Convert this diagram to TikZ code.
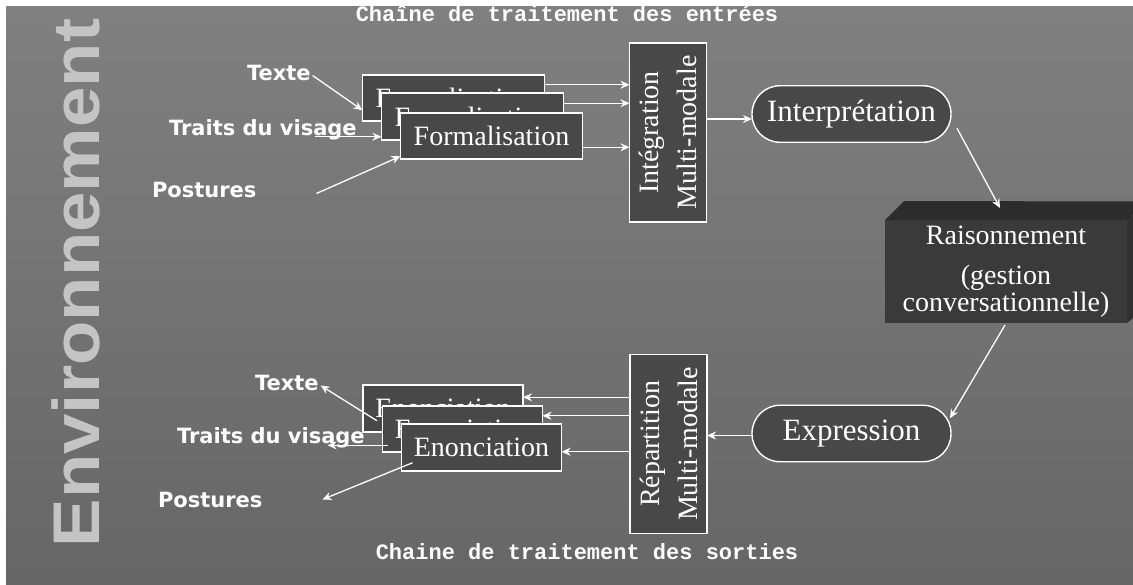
\documentclass[tikz,border=0pt]{standalone}
\usepackage{fontspec}
\setmainfont{Liberation Serif}
\newfontfamily\labelfont{DejaVu Sans}
\newfontfamily\envfont{Liberation Sans}
\newfontfamily\chainfont{Liberation Mono}
\usetikzlibrary{calc,arrows.meta}
\definecolor{bgtop}{RGB}{128,128,128}
\definecolor{bgbot}{RGB}{102,102,102}
\definecolor{boxgrey}{RGB}{72,72,72}
\definecolor{deepgrey}{RGB}{58,58,58}
\definecolor{topface}{RGB}{44,44,44}
\definecolor{sideface}{RGB}{50,50,50}
\definecolor{envgrey}{RGB}{196,196,196}

\tikzset{
  every node/.style={inner sep=0pt, outer sep=0pt},
  procbox/.style={draw=white, line width=1.6pt, fill=boxgrey, text=white,
    font=\fontsize{28}{30}\selectfont, minimum width=182pt, minimum height=46.5pt},
  mmbox/.style={draw=white, line width=1.6pt, fill=boxgrey,
    minimum width=77pt, minimum height=179pt},
  mmtext/.style={rotate=90, align=center, text=white, font=\fontsize{28}{38}\selectfont},
  pill/.style={draw=white, line width=1.4pt, fill=boxgrey, text=white,
    rounded corners=28pt, minimum width=199pt, minimum height=56.5pt,
    font=\fontsize{31}{34}\selectfont},
  chanlabel/.style={anchor=base west, text=white, font=\labelfont\bfseries\fontsize{21}{24}\selectfont},
  chaintitle/.style={anchor=base, text=white, font=\chainfont\bfseries\fontsize{22}{24}\selectfont},
  arr/.style={draw=white, line width=1.3pt, -{Stealth[length=9pt,width=8pt]}},
}

\begin{document}
\begin{tikzpicture}[x=1pt,y=-1pt]
\useasboundingbox (0,0) rectangle (1133,584);
% page and slide background
\fill[white] (0,0) rectangle (1133,584);
\shade[top color=bgtop, bottom color=bgbot] (6,6) rectangle (1133,584);

% side caption and chain titles
\node[rotate=90, text=envgrey, font=\envfont\bfseries\fontsize{66}{66}\selectfont] (env) at (76,283)
  {\scalebox{1.1}[1]{Environnement}};
\node[chaintitle] (tin) at (567,21) {Chaîne de traitement des entrées};
\node[chaintitle] (tout) at (587,559) {Chaine de traitement des sorties};

% ---------- input chain ----------
\node[procbox] (fa) at (453.5,98) {Formalisation};
\node[procbox] (fb) at (472.5,116.5) {Formalisation};
\node[procbox] (fc) at (491.5,136) {Formalisation};

\node[chanlabel] (txin) at (247,80) {Texte};
\node[chanlabel] (vsin) at (169,135) {Traits du visage};
\node[chanlabel] (psin) at (152,197) {Postures};

\draw[arr] ($(txin.east)+(2,3)$) -- ($(fa.south west)+(0,-11)$);
\draw[arr] ($(fb.south west)+(-67,-3)$) -- ($(fb.south west)+(0,-3)$);
\draw[arr] ($(psin.east)+(60,4)$) -- ($(fc.south west)+(0,-3)$);

\node[mmbox] (integ) at (668,132.5) {};
\node[mmtext] at (integ) {Intégration\\Multi-modale};

\coordinate (ia) at ($(fa.north east)+(0,10)$);
\coordinate (ib) at ($(fb.north east)+(0,10)$);
\coordinate (ic) at ($(fc.south east)+(0,-12)$);
\draw[arr] (ia) -- (ia -| integ.west);
\draw[arr] (ib) -- (ib -| integ.west);
\draw[arr] (ic) -- (ic -| integ.west);

\node[pill] (interp) at (851.5,114) {Interprétation};
\coordinate (ii) at ($(interp.west)+(0,5)$);
\draw[arr] (ii -| integ.east) -- (ii);

% ---------- reasoning block ----------
\node[fill=deepgrey, minimum width=242pt, minimum height=103pt, text=white,
      align=center, font=\fontsize{28}{25}\selectfont] (rais) at (1006,271.5)
      {Raisonnement\\[15pt](gestion\\conversationnelle)};
\fill[topface] (rais.north west) -- ++(19,-19) -- (1150,201.5) -- (rais.north east) -- cycle;
\fill[sideface] (rais.north east) -- (1150,201.5) -- (1150,304) -- (rais.south east) -- cycle;

\draw[arr] ($(interp.south east)+(6,-14)$) -- ($(rais.north)+(-6,-12)$);

% ---------- output chain ----------
\node[pill] (expr) at (851.5,433.5) {Expression};
\draw[arr] ($(rais.south)+(-1,2)$) -- ($(expr.north east)+(-1,13)$);

\node[mmbox] (repart) at (668.5,444) {};
\node[mmtext] at (repart) {Répartition\\Multi-modale};

\coordinate (ee) at ($(expr.west)+(0,2)$);
\draw[arr] (ee) -- (ee -| repart.east);

\node[procbox, minimum width=160pt] (ea) at (443,408.5) {Enonciation};
\node[procbox, minimum width=160pt] (eb) at (462.5,429) {Enonciation};
\node[procbox, minimum width=160pt] (ec) at (481.5,447.5) {Enonciation};

\coordinate (ra) at ($(ea.north east)+(0,12)$);
\coordinate (rb) at ($(eb.north east)+(0,10)$);
\coordinate (rc) at ($(ec.south east)+(0,-19)$);
\draw[arr] (ra -| repart.west) -- (ra);
\draw[arr] (rb -| repart.west) -- (rb);
\draw[arr] (rc -| repart.west) -- (rc);

\node[chanlabel] (txout) at (255,390) {Texte};
\node[chanlabel] (vsout) at (177,443) {Traits du visage};
\node[chanlabel] (psout) at (158,507) {Postures};

\draw[arr] ($(ea.south west)+(14,-11)$) -- ($(txout.east)+(2,3)$);
\draw[arr] ($(eb.south west)+(5,-7)$) -- ($(eb.south west)+(-55,-7)$);
\draw[arr] ($(ec.south west)+(11,-8)$) -- ($(psout.east)+(60,0)$);
\end{tikzpicture}
\end{document}
